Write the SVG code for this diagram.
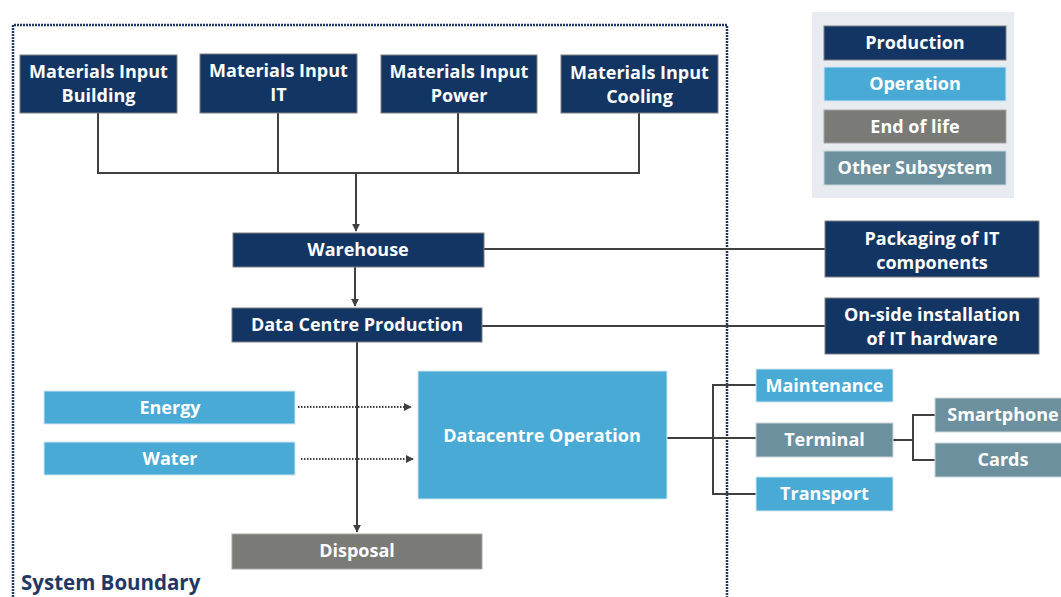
<svg xmlns="http://www.w3.org/2000/svg" width="1061" height="597" viewBox="0 0 1061 597">
<defs>
<style>
.t{font-family:"Open Sans","Noto Sans","Liberation Sans",sans-serif;font-weight:bold;font-size:18px;fill:#ffffff;text-anchor:middle}
.prod{fill:#133563;stroke:#7f7f7f;stroke-width:1}
.op{fill:#4aaad6;stroke:#d0e6f2;stroke-width:1}
.eol{fill:#7a7a76;stroke:#a6a6a6;stroke-width:1}
.oth{fill:#6d909e;stroke:#c8d5da;stroke-width:1}
.c{fill:none;stroke:#404040;stroke-width:2}
.d{fill:none;stroke:#404040;stroke-width:2;stroke-dasharray:1.5 1.5}
</style>
<marker id="ah" viewBox="0 0 10 10" refX="9" refY="5" markerWidth="4" markerHeight="4" orient="auto"><path d="M0,0 L10,5 L0,10 z" fill="#404040"/></marker>
</defs>
<rect width="1061" height="597" fill="#ffffff"/>
<g id="boundary">
<path d="M13,597 V25 H727 V597" fill="none" stroke="#1f3864" stroke-width="2.5" stroke-dasharray="2 1"/>
<text x="21" y="590" style="font-family:'Open Sans','Noto Sans',sans-serif;font-weight:bold;font-size:20.5px;fill:#1f3864">System Boundary</text>
</g>
<g id="legend">
<rect x="812" y="12" width="202" height="186" fill="#e8ebf0"/>
<rect class="prod" x="824" y="26" width="182" height="34"/><text class="t" x="915" y="49">Production</text>
<rect class="op" x="824" y="67" width="182" height="34"/><text class="t" x="915" y="90">Operation</text>
<rect class="eol" x="824" y="110" width="182" height="33"/><text class="t" x="915" y="133">End of life</text>
<rect class="oth" x="824" y="151" width="182" height="34"/><text class="t" x="915" y="174">Other Subsystem</text>
</g>
<g id="connectors">
<path class="c" d="M98,113 V173 H639 V113 M278,113 V173 M458,113 V173"/>
<path class="c" d="M356,173 V231" marker-end="url(#ah)"/>
<path class="c" d="M355,267 V306" marker-end="url(#ah)"/>
<path class="c" d="M357,342 V532" marker-end="url(#ah)"/>
<path class="c" d="M484,249 H825"/>
<path class="c" d="M482,326 H825"/>
<path class="d" d="M298,407 H411" marker-end="url(#ah)"/>
<path class="d" d="M301,459 H413" marker-end="url(#ah)"/>
<path class="c" d="M667,438 H756 M756,385 H713 V494 H756"/>
<path class="c" d="M893,440 H913 M935,415 H913 V460 H935"/>
</g>
<g id="n-building"><rect class="prod" x="20" y="55" width="157" height="58"/><text class="t" x="98.5" y="78">Materials Input</text><text class="t" x="98.5" y="102">Building</text></g>
<g id="n-it"><rect class="prod" x="200" y="54" width="157" height="59"/><text class="t" x="278.5" y="77">Materials Input</text><text class="t" x="278.5" y="101">IT</text></g>
<g id="n-power"><rect class="prod" x="381" y="55" width="156" height="58"/><text class="t" x="459" y="78">Materials Input</text><text class="t" x="459" y="102">Power</text></g>
<g id="n-cooling"><rect class="prod" x="561" y="55" width="157" height="58"/><text class="t" x="639.5" y="79">Materials Input</text><text class="t" x="639.5" y="103">Cooling</text></g>
<g id="n-warehouse"><rect class="prod" x="233" y="233" width="251" height="34"/><text class="t" x="358" y="256">Warehouse</text></g>
<g id="n-dcp"><rect class="prod" x="232" y="308" width="250" height="34"/><text class="t" x="357" y="331">Data Centre Production</text></g>
<g id="n-packaging"><rect class="prod" x="825" y="221" width="214" height="56"/><text class="t" x="932" y="245">Packaging of IT</text><text class="t" x="932" y="269">components</text></g>
<g id="n-onside"><rect class="prod" x="825" y="298" width="214" height="56"/><text class="t" x="932" y="321">On-side installation</text><text class="t" x="932" y="345">of IT hardware</text></g>
<g id="n-energy"><rect class="op" x="44" y="391" width="251" height="33"/><text class="t" x="170" y="414">Energy</text></g>
<g id="n-water"><rect class="op" x="44" y="442" width="251" height="33"/><text class="t" x="170" y="465">Water</text></g>
<g id="n-dcop"><rect class="op" x="418" y="371" width="249" height="128"/><text class="t" x="542" y="442">Datacentre Operation</text></g>
<g id="n-disposal"><rect class="eol" x="232" y="534" width="250" height="35"/><text class="t" x="357" y="557">Disposal</text></g>
<g id="n-maintenance"><rect class="op" x="756" y="369" width="137" height="33"/><text class="t" x="824.5" y="392">Maintenance</text></g>
<g id="n-terminal"><rect class="oth" x="756" y="423" width="137" height="34"/><text class="t" x="824.5" y="446">Terminal</text></g>
<g id="n-transport"><rect class="op" x="756" y="477" width="137" height="34"/><text class="t" x="824.5" y="500">Transport</text></g>
<g id="n-smartphone"><rect class="oth" x="935" y="398" width="130" height="34"/><text class="t" x="1003" y="421">Smartphone</text></g>
<g id="n-cards"><rect class="oth" x="935" y="443" width="130" height="34"/><text class="t" x="1003" y="466">Cards</text></g>
</svg>
